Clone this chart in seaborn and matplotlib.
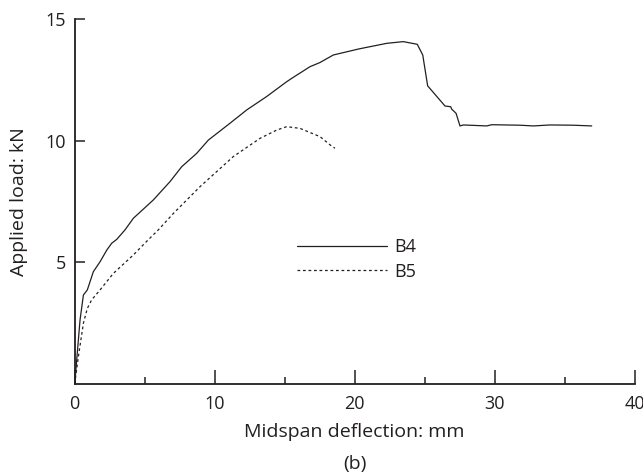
import matplotlib
matplotlib.use("Agg")
import matplotlib.pyplot as plt
from matplotlib.lines import Line2D
from matplotlib.ticker import MultipleLocator, FixedLocator
import pandas as pd
import seaborn as sns

# Load-deflection readings for the two beams
b4_deflection = [0.0, 0.38, 0.62, 0.9, 1.33, 1.81, 2.29, 2.64, 3.0, 3.59, 4.19, 5.61,
                 6.81, 7.64, 8.71, 9.55, 10.02, 11.09, 12.29, 13.71, 15.14, 15.61, 16.81,
                 17.52, 18.47, 20.3, 22.29, 23.47, 24.47, 24.86, 25.21, 26.45, 26.86,
                 26.93, 27.24, 27.52, 27.76, 29.43, 29.79, 31.8, 32.76, 33.95, 35.6, 36.93]
b4_load = [0.0, 2.62, 3.65, 3.86, 4.61, 5.02, 5.5, 5.78, 5.94, 6.33, 6.81, 7.56,
           8.32, 8.93, 9.48, 10.03, 10.24, 10.72, 11.27, 11.82, 12.43, 12.61, 13.05,
           13.22, 13.53, 13.78, 14.01, 14.08, 13.97, 13.53, 12.26, 11.43, 11.40,
           11.30, 11.13, 10.61, 10.65, 10.61, 10.66, 10.64, 10.61, 10.65, 10.64, 10.61]

b5_deflection = [0.0, 0.26, 0.62, 0.9, 1.21, 1.81, 2.76, 4.19, 5.14, 5.97, 7.05, 8.95,
                 11.33, 13.24, 14.43, 15.14, 16.09, 17.52, 18.24, 18.59]
b5_load = [0.0, 1.11, 2.49, 3.1, 3.45, 3.86, 4.54, 5.3, 5.86, 6.33, 7.01, 8.11,
           9.35, 10.1, 10.44, 10.58, 10.51, 10.17, 9.83, 9.69]

series_names = ["B4", "B5"]
x_ticks = [0, 10, 20, 30, 40]
y_ticks = [5, 10, 15]

df = pd.concat([
    pd.DataFrame({"deflection": b4_deflection, "load": b4_load, "beam": series_names[0]}),
    pd.DataFrame({"deflection": b5_deflection, "load": b5_load, "beam": series_names[1]}),
], ignore_index=True)

sns.set_style("ticks")
plt.rcParams["font.family"] = ["Open Sans", "DejaVu Sans"]
ink = "#231f20"
dash_pattern = (2.2, 2.2)

fig = plt.figure(figsize=(6.43, 4.76), dpi=100)
ax = fig.add_axes([0.1162, 0.1939, 0.8709, 0.7656])

sns.lineplot(data=df, x="deflection", y="load", style="beam", sort=False,
             estimator=None, color=ink, linewidth=0.9,
             dashes={"B4": "", "B5": dash_pattern}, ax=ax, legend=False)

ax.set_xlim(0, 40)
ax.set_ylim(0, 15)
ax.xaxis.set_major_locator(FixedLocator(x_ticks))
ax.xaxis.set_minor_locator(MultipleLocator(5))
ax.yaxis.set_major_locator(FixedLocator(y_ticks))
ax.set_xticklabels([str(t) for t in x_ticks])
ax.set_yticklabels([str(t) for t in y_ticks])

for side in ("top", "right"):
    ax.spines[side].set_visible(False)
for side in ("left", "bottom"):
    ax.spines[side].set_linewidth(1.3)
    ax.spines[side].set_color(ink)

ax.tick_params(axis="x", which="major", direction="in", length=9.8, width=1.1,
               color=ink, labelsize=13, labelcolor=ink, pad=8)
ax.tick_params(axis="x", which="minor", direction="in", length=4.8, width=1.1, color=ink)
ax.tick_params(axis="y", which="major", direction="in", length=7.2, width=1.1,
               color=ink, labelsize=13, labelcolor=ink, pad=6)

ax.set_xlabel("Midspan deflection: mm", fontsize=14, color=ink, labelpad=7)
ax.set_ylabel("Applied load: kN", fontsize=14, color=ink, labelpad=13)
fig.text(0.552, 0.006, "(b)", fontsize=14, color=ink, ha="center", va="bottom")

# Legend: line samples followed by beam names
handles = [Line2D([], [], color=ink, linewidth=0.9),
           Line2D([], [], color=ink, linewidth=0.9, dashes=dash_pattern)]
ax.legend(handles, series_names, loc="center left", bbox_to_anchor=(0.397, 0.341),
          frameon=False, fontsize=13, handlelength=5.0, handletextpad=0.4,
          borderaxespad=0, borderpad=0, labelspacing=0.35, labelcolor=ink)

fig.savefig("out.png", dpi=100)
